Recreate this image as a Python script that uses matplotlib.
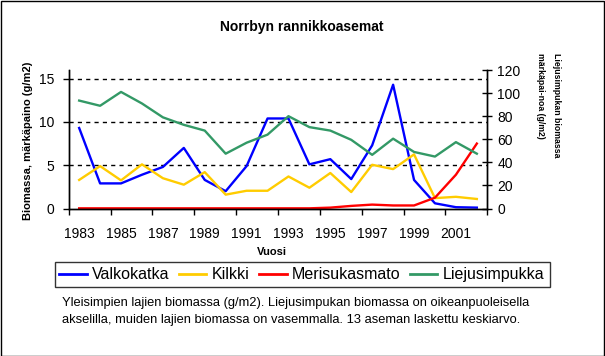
import matplotlib
matplotlib.use('Agg')
import matplotlib.pyplot as plt
import numpy as np
from matplotlib.patches import Rectangle

plt.rcParams['font.family'] = ['Liberation Sans', 'DejaVu Sans']

# data
years = [1983, 1984, 1985, 1986, 1987, 1988, 1989, 1990, 1991, 1992,
         1993, 1994, 1995, 1996, 1997, 1998, 1999, 2000, 2001, 2002]
valkokatka = [9.3, 2.9, 2.9, 3.9, 4.8, 7.0, 3.3, 2.0, 4.9, 10.4,
              10.4, 5.1, 5.7, 3.4, 7.3, 14.3, 3.3, 0.6, 0.15, 0.1]
kilkki = [3.3, 4.9, 3.25, 5.1, 3.5, 2.75, 4.2, 1.6, 2.05, 2.05,
          3.7, 2.4, 4.1, 1.9, 5.05, 4.55, 6.25, 1.2, 1.35, 1.1]
merisukasmato = [0.02, 0.02, 0.02, 0.02, 0.02, 0.02, 0.02, 0.02, 0.02, 0.02,
                 0.02, 0.02, 0.1, 0.3, 0.45, 0.35, 0.35, 1.25, 3.9, 7.5]
liejusimpukka = [93.5, 89, 101, 91, 79, 72.5, 67.5, 47.5, 57, 64,
                 80, 70.5, 67.5, 59.5, 46.5, 60.5, 49, 45, 57.5, 47.5]

W, H = 605, 356
fig = plt.figure(figsize=(W / 100, H / 100), dpi=100)

# plot area in pixels
x0, x1, ytop, ybot = 68.7, 487.3, 70, 208.5
ax = fig.add_axes([x0 / W, 1 - ybot / H, (x1 - x0) / W, (ybot - ytop) / H])
ax2 = ax.twinx()

x = np.arange(len(years))
lw = 1.7
l1, = ax.plot(x, valkokatka, color='#0000FF', lw=lw, clip_on=False, label='Valkokatka')
l2, = ax.plot(x, kilkki, color='#FFCC00', lw=lw, clip_on=False, label='Kilkki')
l3, = ax.plot(x, merisukasmato, color='#FF0000', lw=lw, clip_on=False, label='Merisukasmato')
l4, = ax2.plot(x, liejusimpukka, color='#339966', lw=lw, clip_on=False, label='Liejusimpukka')

ax.set_xlim(-0.5, len(years) - 0.5)
ax.set_ylim(0, 16)
ax2.set_ylim(0, 120)

# gridlines (left axis)
for g in [5, 10, 15]:
    ax.axhline(g, color='black', lw=1, ls=(0, (3, 3)), zorder=0)

ax.set_yticks([0, 5, 10, 15])
ax2.set_yticks([0, 20, 40, 60, 80, 100, 120])

# category axis: ticks between categories every 2, labels every 2
ax.set_xticks(np.arange(-0.5, len(years), 2))
ax.set_xticklabels([])
ax.set_xticks(x[::2], minor=True)
ax.set_xticklabels([str(y) for y in years[::2]], minor=True)
ax.tick_params(axis='x', which='major', direction='out', length=4, width=1, color='black')
ax.tick_params(axis='x', which='minor', length=0, pad=13, labelsize=10)
ax.tick_params(axis='y', direction='out', length=4, width=1, pad=6.5, labelsize=10)
ax2.tick_params(axis='y', direction='inout', length=6.5, width=1, pad=4, labelsize=10)

for a in (ax, ax2):
    a.spines['top'].set_visible(False)
    for s in ('left', 'right', 'bottom'):
        a.spines[s].set_linewidth(1)
        a.spines[s].set_color('black')
ax.patch.set_visible(False)

# texts
fig.text(302 / W, 1 - 27 / H, 'Norrbyn rannikkoasemat', ha='center', va='center',
         fontsize=10, fontweight='bold')
fig.text(28 / W, 1 - 140.5 / H, 'Biomassa, märkäpaino (g/m2)', rotation=90,
         ha='center', va='center', fontsize=8, fontweight='bold')
fig.text(557 / W, 1 - 53 / H, 'Liejusimpukan biomassa', rotation=-90,
         ha='center', va='top', fontsize=6.3, fontweight='bold')
fig.text(541 / W, 1 - 53 / H, 'märkäpai-noa (g/m2)', rotation=-90,
         ha='center', va='top', fontsize=6.3, fontweight='bold')
fig.text(272 / W, 1 - 252 / H, 'Vuosi', ha='center', va='center',
         fontsize=8, fontweight='bold')

leg = fig.legend(handles=[l1, l2, l3, l4], loc='center', ncol=4,
                 bbox_to_anchor=((58.7 + 545.5) / 2 / W, 1 - 274.6 / H),
                 fontsize=11.5, frameon=True, fancybox=False, shadow=False,
                 handlelength=1.7, handletextpad=0.35, columnspacing=0.6,
                 borderpad=0.3, borderaxespad=0)
leg.get_frame().set_edgecolor('black')
leg.get_frame().set_linewidth(1)
for h in leg.get_lines():
    h.set_linewidth(2)

fig.text(62 / W, 1 - 303 / H,
         'Yleisimpien lajien biomassa (g/m2). Liejusimpukan biomassa on oikeanpuoleisella',
         ha='left', va='center', fontsize=9.3)
fig.text(62 / W, 1 - 320 / H,
         'akselilla, muiden lajien biomassa on vasemmalla. 13 aseman laskettu keskiarvo.',
         ha='left', va='center', fontsize=9.3)

# frame around the whole picture
fig.patches.append(Rectangle((0.5 / W, 0.5 / H), 1 - 1.5 / W, 1 - 1.5 / H,
                             transform=fig.transFigure, fill=False,
                             edgecolor='black', lw=1))

fig.savefig('out.png', dpi=100)
